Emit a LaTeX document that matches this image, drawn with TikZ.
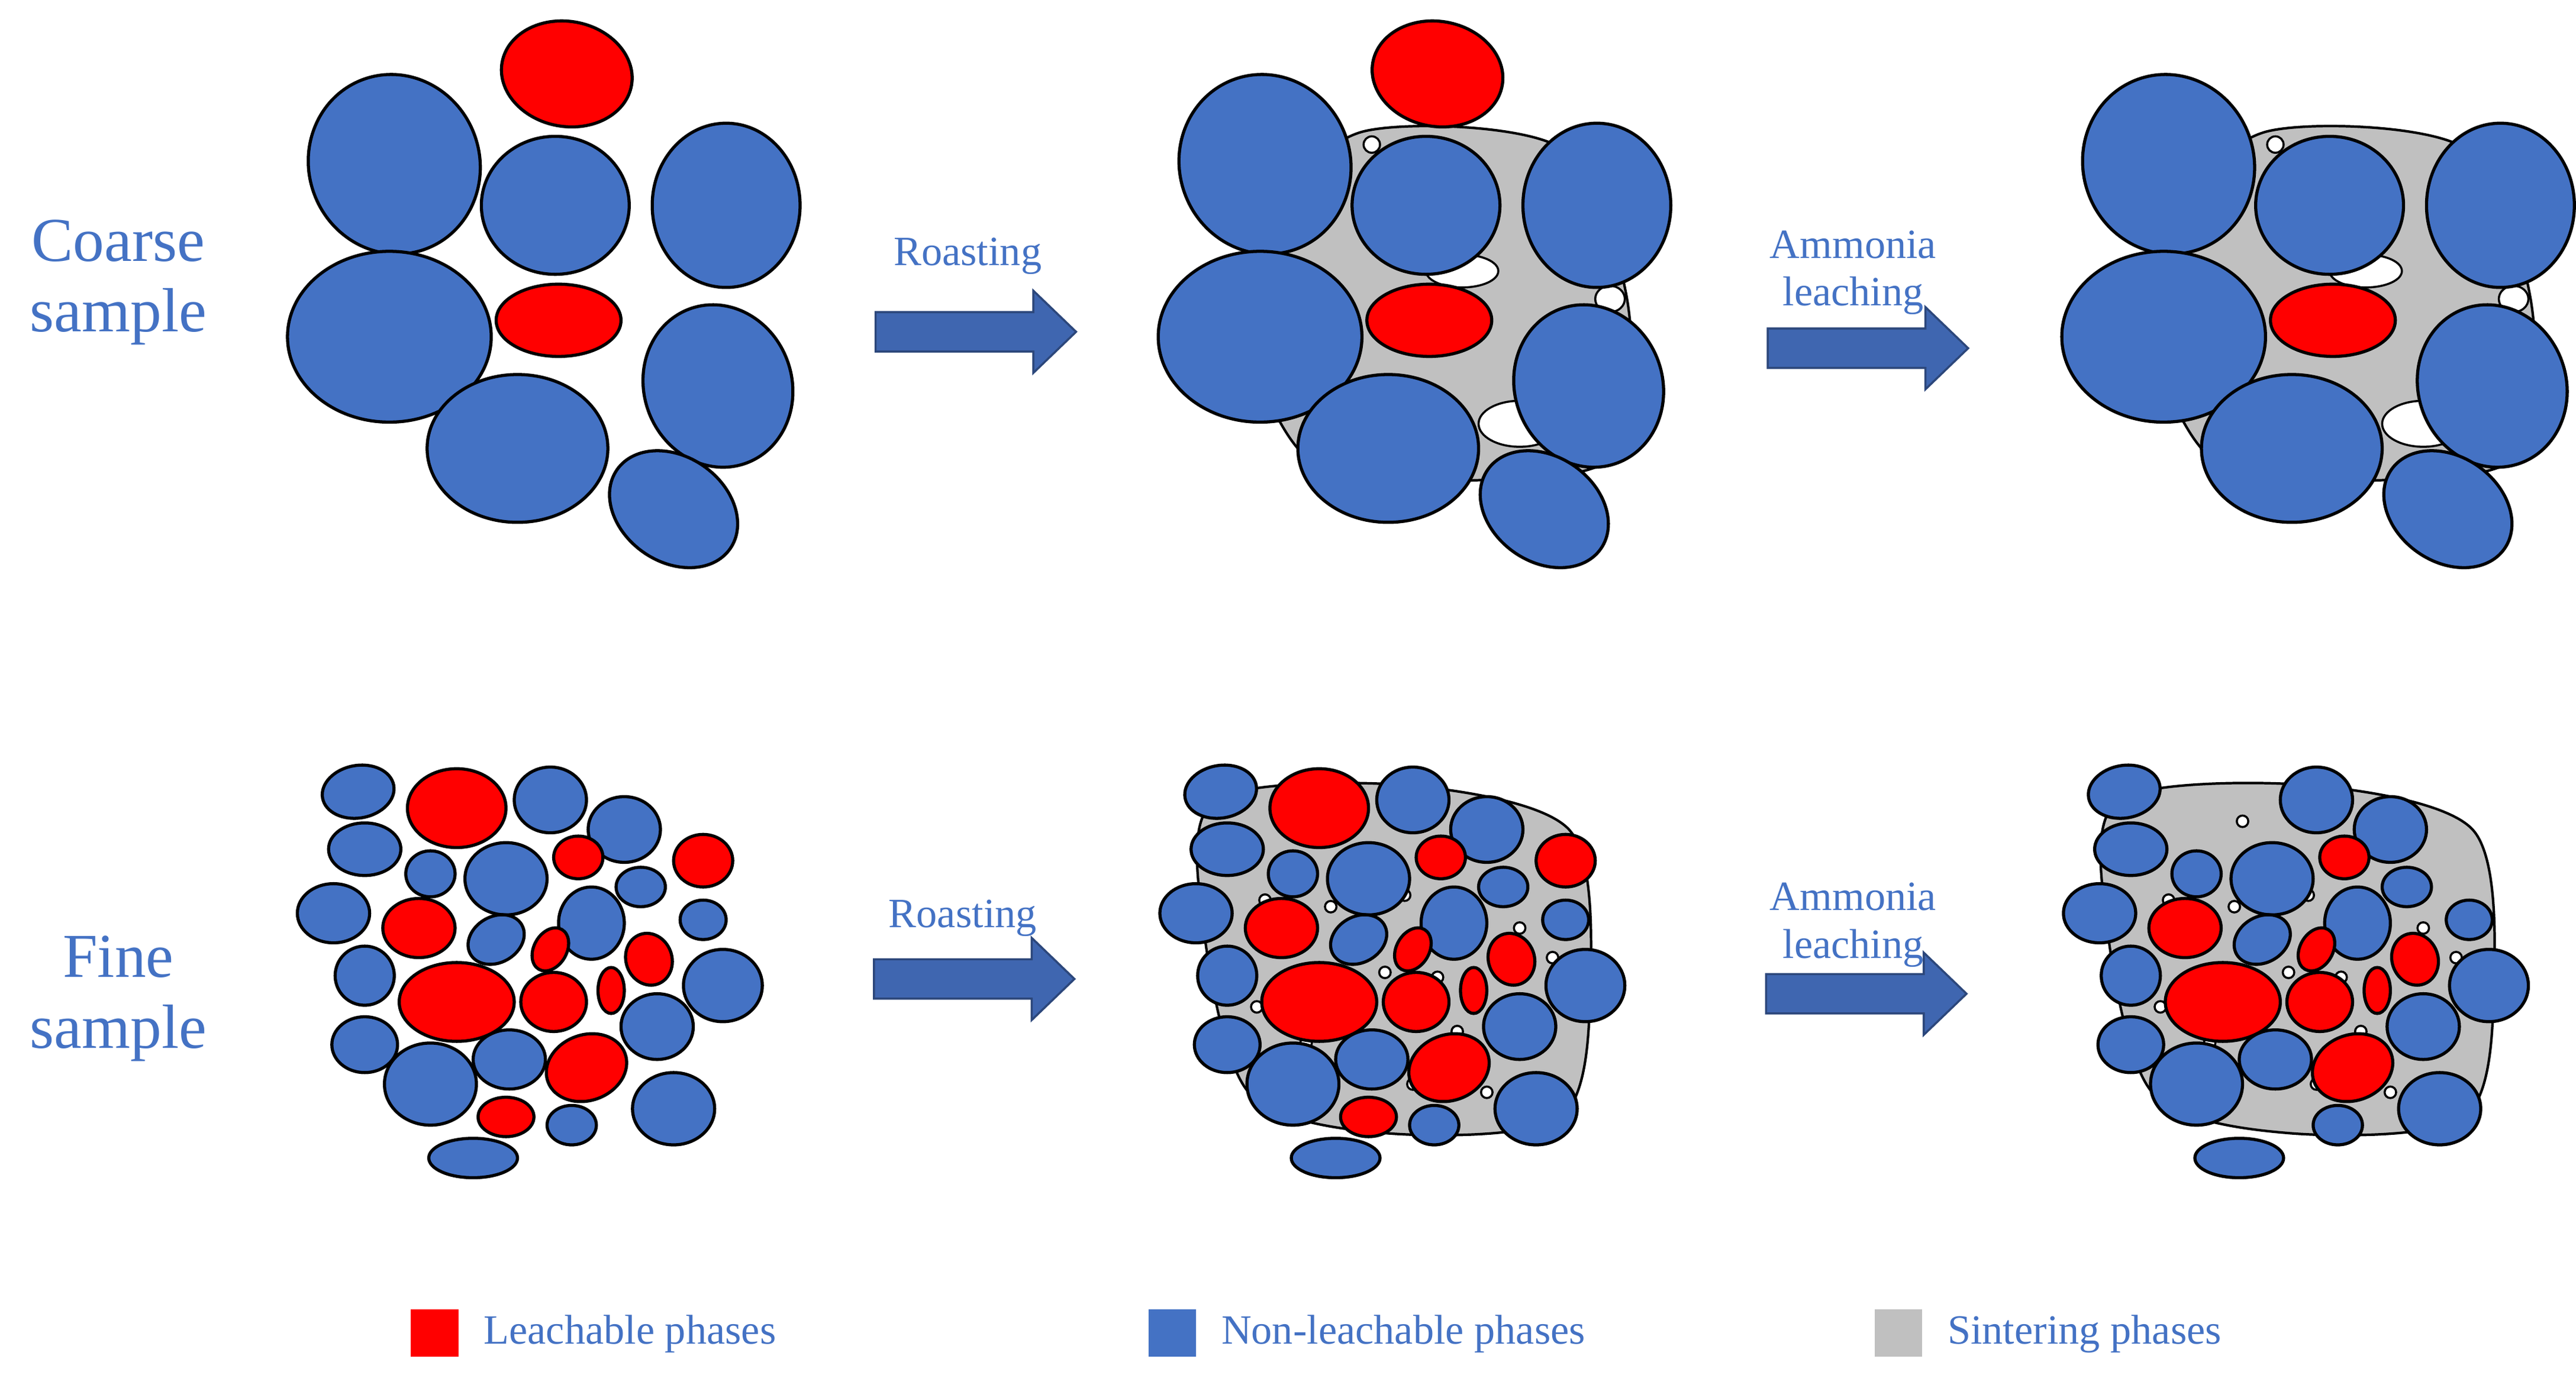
\documentclass[tikz,border=0pt]{standalone}
\usepackage{fontspec}
\setmainfont{Liberation Serif}
\begin{document}
\begin{tikzpicture}[x=0.02776cm,y=-0.02776cm,
  bl/.style={fill=B,draw=black,line width=1.5pt},
  rd/.style={fill=R,draw=black,line width=1.5pt},
  hole/.style={fill=white,draw=black,line width=1pt},
  lab/.style={text=B,font=\fontsize{30}{34}\selectfont,align=center},
  alab/.style={text=B,font=\fontsize{20}{23}\selectfont,align=center},
  leg/.style={text=B,font=\fontsize{20}{22}\selectfont,anchor=west},
  arr/.style={fill=A,draw=A!70!black,line width=1pt}]
\definecolor{B}{HTML}{4472C4}\definecolor{R}{HTML}{FF0000}
\definecolor{G}{HTML}{C0C0C0}\definecolor{A}{HTML}{3F66B0}
\useasboundingbox (0,0) rectangle (1568,837);
\def\coarse{r/345/45/40/32/-10/0,b/240/100/52/55/20/1,b/338/125/45/42/0/1,b/442/125/45/50/0/1,b/237/205/62/52/0/1,r/340/195/38/22/0/1,b/437/235/45/50/20/1,b/315/273/55/45/0/1,b/410/310/42/32/-35/1}
\def\fine{b/218/482/22/16/10/1,r/278/492/30/24/0/0,b/335/487/22/20/0/1,b/380/505/22/20/0/1,b/222/517/22/16/0/1,b/262/532/15/14/0/1,b/308/535/25/22/0/1,r/352/522/15/13/0/1,r/428/524/18/16/0/0,b/390/540/15/12/0/1,b/203/556/22/18/0/1,r/255/565/22/18/0/1,b/302/572/18/14/30/1,b/360/562/20/22/0/1,b/428/560/14/12/0/1,r/335/578/10/14/-30/1,r/395/584/14/16/20/1,b/222/594/18/18/0/1,r/278/610/35/24/0/1,r/337/610/20/18/0/1,r/372/603/8/14/0/1,b/440/600/24/22/0/1,b/222/636/20/17/0/1,b/310/645/22/18/0/1,b/400/625/22/20/0/1,b/262/660/28/25/0/1,r/357/650/25/20/20/1,b/410/675/25/22/0/1,r/308/680/17/12/0/0,b/348/685/15/12/0/1,b/288/705/27/12/0/1}
\newcommand\drawset[2]{% list, stage
  \foreach \c/\x/\y/\a/\b/\r/\k in #1 {
    \if\c r\def\st{rd}\else\def\st{bl}\fi
    \ifnum#2=3 \ifnum\k=0 \def\st{}\fi\fi
    \ifx\st\empty\else\path[\st] (\x,\y) ellipse[x radius=\a,y radius=\b,rotate=\r];\fi}}
\drawset{\coarse}{1}
\foreach \dx/\s in {530/2,1080/3}{
\begin{scope}[xshift=\dx*0.02776cm]
\path[fill=G,draw=black,line width=1.2pt] plot[smooth cycle] coordinates{(240,135)(300,80)(420,90)(460,180)(455,275)(380,292)(270,282)(228,200)};
\path[hole] (360,165) ellipse[x radius=22,y radius=10];
\path[hole] (395,258) ellipse[x radius=25,y radius=14];
\path[hole] (450,182) ellipse[x radius=9,y radius=8];
\path[hole] (305,88) ellipse[x radius=5,y radius=5];
\drawset{\coarse}{\s}
\end{scope}}
\drawset{\fine}{1}
\foreach \dx/\s in {525/2,1075/3}{
\begin{scope}[xshift=\dx*0.02776cm]
\path[fill=G,draw=black,line width=1.2pt] plot[smooth cycle] coordinates{(215,487)(330,478)(430,505)(443,600)(425,680)(320,690)(235,665)(207,560)};
\foreach \hx/\hy in {245/548,285/552,330/545,318/592,300/620,362/628,385/625,420/583,240/613,270/635,335/660,380/665,350/595,290/500,400/565}
  \path[hole] (\hx,\hy) circle[radius=3.5];
\drawset{\fine}{\s}
\end{scope}}
\node[lab] (c) at (72,172) {Coarse\\sample};
\node[lab] (f) at (72,608) {Fine\\sample};
\foreach \ax/\ay/\n in {533/202/a1,1076/212/a2,532/596/a3,1075/605/a4}
  \path[arr] (\ax,\ay-12)--(\ax+96,\ay-12)--(\ax+96,\ay-25)--(\ax+122,\ay)--(\ax+96,\ay+25)--(\ax+96,\ay+12)--(\ax,\ay+12)--cycle;
\node[alab] (t1) at (589,156) {Roasting};
\node[alab] (t2) at (1128,166) {Ammonia\\leaching};
\node[alab] (t3) at (586,559) {Roasting};
\node[alab] (t4) at (1128,563) {Ammonia\\leaching};
\path[fill=R] (250,797) rectangle (279,826);
\path[fill=B] (699,797) rectangle (728,826);
\path[fill=G] (1141,797) rectangle (1170,826);
\node[leg] (l1) at (290,812) {Leachable phases};
\node[leg] (l2) at (739,812) {Non-leachable phases};
\node[leg] (l3) at (1181,812) {Sintering phases};
\end{tikzpicture}
\end{document}
